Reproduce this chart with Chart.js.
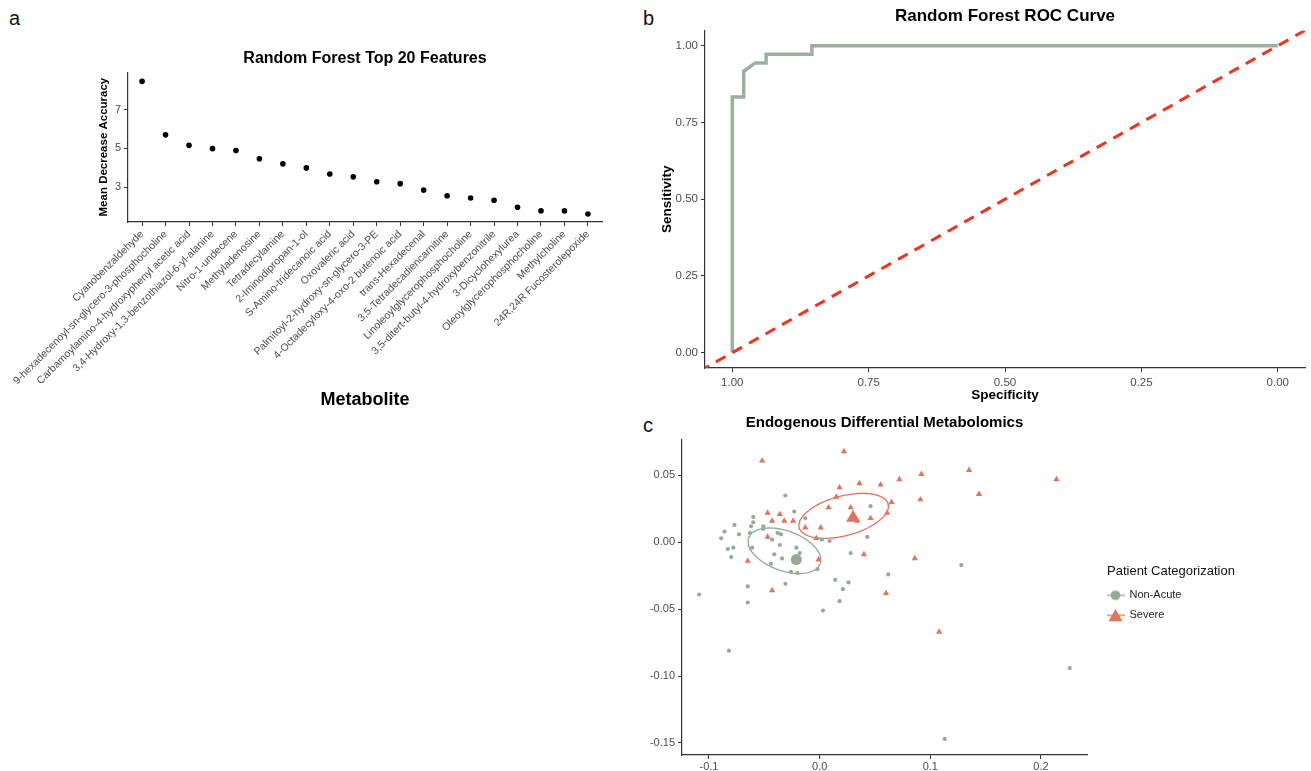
<!DOCTYPE html>
<html>
<head>
<meta charset="utf-8">
<script src="https://cdn.jsdelivr.net/npm/chart.js@4.4.0/dist/chart.umd.min.js"></script>
<style>
  body { margin: 0; background: #fff; width: 1311px; height: 771px; position: relative; overflow: hidden; font-family: "Liberation Sans", Arial, sans-serif; }
  canvas { position: absolute; }
  .tag { position: absolute; font-size: 20px; color: #111; line-height: 20px; }
</style>
</head>
<body>
<div class="tag" style="left:9px;top:8px">a</div>
<div class="tag" style="left:643px;top:8px">b</div>
<div class="tag" style="left:643px;top:415px">c</div>
<canvas id="chartA" width="625" height="420" style="left:0;top:0"></canvas>
<canvas id="chartB" width="671" height="410" style="left:640px;top:0"></canvas>
<canvas id="chartC" width="671" height="361" style="left:640px;top:410px"></canvas>
<script>
// --- panel a : random forest importance ---
const metabolites = [
  'Cyanobenzaldehyde',
  '9-hexadecenoyl-sn-glycero-3-phosphocholine',
  'Carbamoylamino-4-hydroxyphenyl acetic acid',
  '3,4-Hydroxy-1,3-benzothiazol-6-yl-alanine',
  'Nitro-1-undecene',
  'Methyladenosine',
  'Tetradecylamine',
  '2-Iminodipropan-1-ol',
  'S-Amino-tridecanoic acid',
  'Oxovaleric acid',
  'Palmitoyl-2-hydroxy-sn-glycero-3-PE',
  '4-Octadecyloxy-4-oxo-2 butenoic acid',
  'trans-Hexadecenal',
  '3,5-Tetradecadiencarnitine',
  'Linoleoylglycerophosphocholine',
  '3,5-ditert-butyl-4-hydroxybenzonitrile',
  '3-Dicyclohexylurea',
  'Oleoylglycerophosphocholine',
  'Methylcholine',
  '24R,24R Fucosterolepoxide'
];
const meanDecreaseAccuracy = [8.45, 5.70, 5.16, 4.99, 4.89, 4.47, 4.21, 4.00, 3.69, 3.54,
                              3.29, 3.19, 2.86, 2.57, 2.45, 2.34, 1.98, 1.79, 1.79, 1.63];
const accuracyTicks = [3, 5, 7];

// --- panel b : ROC ---
const rocSpecificity = [1, 1, 0.979, 0.979, 0.958, 0.938, 0.938, 0.854, 0.854, 0];
const rocSensitivity = [0, 0.833, 0.833, 0.917, 0.944, 0.944, 0.972, 0.972, 1, 1];
const rocTicks = [0, 0.25, 0.5, 0.75, 1];
const rocRange = [-0.05, 1.05];

// --- panel c : PCA scatter ---
const groupNames = ['Non-Acute', 'Severe'];
const groupColors = ['#97aa97', '#e2735c'];
const nonAcutePC1 = [-0.031, -0.060, -0.060, -0.077, -0.062, -0.051, -0.086, -0.063, -0.073, -0.051,
  -0.089, -0.038, -0.035, -0.043, -0.023, -0.013, -0.078, -0.083, -0.061, -0.036,
  -0.021, -0.018, -0.080, -0.041, -0.034, -0.044, -0.002, -0.026, -0.020, 0.002,
  0.009, 0.028, 0.043, 0.046, -0.031, -0.065, 0.014, 0.026, 0.021, 0.062,
  -0.109, -0.065, 0.018, 0.003, 0.128, -0.082, 0.113, 0.226];
const nonAcutePC2 = [0.035, 0.019, 0.015, 0.013, 0.012, 0.012, 0.008, 0.007, 0.006, 0.010,
  0.003, 0.007, 0.006, 0.002, 0.023, 0.018, -0.004, -0.005, -0.004, -0.002,
  -0.004, -0.008, -0.011, -0.009, -0.012, -0.016, -0.020, -0.022, -0.023, 0.002,
  0.001, -0.008, 0.004, 0.027, -0.031, -0.033, -0.028, -0.030, -0.035, -0.024,
  -0.039, -0.045, -0.044, -0.051, -0.017, -0.081, -0.147, -0.094];
const severePC1 = [-0.052, 0.022, 0.036, 0.018, 0.055, 0.072, 0.015, 0.008, 0.028, 0.065,
  -0.047, -0.036, -0.043, -0.032, -0.024, -0.013, 0.001, 0.046, 0.061, 0.034,
  -0.003, -0.047, -0.065, -0.001, 0.040, -0.043, 0.060, 0.092, 0.135, 0.214,
  0.091, 0.144, 0.086, 0.108];
const severePC2 = [0.061, 0.068, 0.044, 0.041, 0.043, 0.047, 0.034, 0.026, 0.026, 0.030,
  0.022, 0.021, 0.016, 0.016, 0.016, 0.011, 0.011, 0.018, 0.022, 0.016,
  0.003, 0.004, -0.014, -0.013, -0.009, -0.036, -0.038, 0.051, 0.054, 0.047,
  0.032, 0.036, -0.012, -0.067];
// ellipse (stat_ellipse) centre and half-axis vectors, in data units
const nonAcuteEllipseCenter = [-0.0318, -0.0063];
const nonAcuteEllipseAxes = [[0.0323, -0.0097], [-0.0062, -0.0140]];
const severeEllipseCenter = [0.0217, 0.0198];
const severeEllipseAxes = [[0.0402, 0.0088], [0.0047, -0.0143]];
const pc1Ticks = [-0.1, 0, 0.1, 0.2];
const pc2Ticks = [-0.15, -0.10, -0.05, 0, 0.05];

Chart.defaults.font.family = '"Liberation Sans", Arial, sans-serif';
Chart.defaults.animation = false;

const axisColor = '#333333';
const tickColor = '#4d4d4d';
const fixTicks = values => scale => { scale.ticks = values.map(v => ({ value: v })); };
const classicBorder = { display: true, color: axisColor, width: 1.2 };
const classicGrid = { display: true, drawOnChartArea: false, drawTicks: true, tickLength: 4, color: axisColor, lineWidth: 1 };

// Panel a
new Chart(document.getElementById('chartA'), {
  type: 'scatter',
  data: {
    datasets: [{
      data: meanDecreaseAccuracy.map((v, i) => ({ x: i, y: v })),
      backgroundColor: '#000', borderColor: '#000', pointRadius: 2.8, borderWidth: 0
    }]
  },
  options: {
    responsive: false,
    layout: { padding: { left: 0, right: 23, top: 0, bottom: 0 }, autoPadding: false },
    plugins: {
      legend: { display: false },
      tooltip: { enabled: false },
      title: {
        display: true, fullSize: false, text: 'Random Forest Top 20 Features', color: '#000',
        font: { size: 16, weight: 'bold' }, padding: { top: 49, bottom: 4 }
      }
    },
    scales: {
      x: {
        type: 'linear', min: -0.6, max: 19.6,
        afterBuildTicks: fixTicks(metabolites.map((m, i) => i)),
        afterFit: s => { s.height = 198; s.paddingLeft = 0; s.paddingRight = 0; },
        border: classicBorder, grid: classicGrid,
        ticks: { color: tickColor, font: { size: 10.5 }, padding: 2, minRotation: 45, maxRotation: 45, autoSkip: false,
                 callback: v => metabolites[v] },
        title: { display: true, text: 'Metabolite', color: '#000', font: { size: 18, weight: 'bold' }, padding: { top: 0, bottom: 9 } }
      },
      y: {
        min: 1.22, max: 8.92,
        afterBuildTicks: fixTicks(accuracyTicks),
        afterFit: s => { s.width = 128; },
        border: classicBorder, grid: classicGrid,
        ticks: { color: tickColor, font: { size: 11 }, padding: 3 },
        title: { display: true, text: 'Mean Decrease Accuracy', color: '#000', font: { size: 11.5, weight: 'bold' }, padding: { top: 97, bottom: 0 } }
      }
    }
  }
});

// Panel b
new Chart(document.getElementById('chartB'), {
  type: 'scatter',
  data: {
    datasets: [{
      data: rocRange.map(s => ({ x: s, y: 1 - s })),
      showLine: true, borderColor: '#f5321c', borderWidth: 3, borderDash: [11, 8], pointRadius: 0, order: 0
    }, {
      data: rocSpecificity.map((s, i) => ({ x: s, y: rocSensitivity[i] })),
      showLine: true, borderColor: '#9daf9e', borderWidth: 3.5, pointRadius: 0, order: 1
    }]
  },
  options: {
    responsive: false,
    layout: { padding: { left: 0, right: 6, top: 0, bottom: 0 }, autoPadding: false },
    plugins: {
      legend: { display: false },
      tooltip: { enabled: false },
      title: {
        display: true, fullSize: false, text: 'Random Forest ROC Curve', color: '#000',
        font: { size: 17, weight: 'bold' }, padding: { top: 6, bottom: 4 }
      }
    },
    scales: {
      x: {
        type: 'linear', reverse: true, min: rocRange[0], max: rocRange[1],
        afterBuildTicks: fixTicks(rocTicks),
        afterFit: s => { s.height = 42; },
        border: classicBorder, grid: classicGrid,
        ticks: { color: tickColor, font: { size: 11.5 }, padding: 4, callback: v => v.toFixed(2) },
        title: { display: true, text: 'Specificity', color: '#000', font: { size: 13.5, weight: 'bold' }, padding: { top: 0, bottom: 7 } }
      },
      y: {
        min: rocRange[0], max: rocRange[1],
        afterBuildTicks: fixTicks(rocTicks),
        afterFit: s => { s.width = 65; },
        border: classicBorder, grid: classicGrid,
        ticks: { color: tickColor, font: { size: 11.5 }, padding: 3, callback: v => v.toFixed(2) },
        title: { display: true, text: 'Sensitivity', color: '#000', font: { size: 13.5, weight: 'bold' }, padding: { top: 19, bottom: 0 } }
      }
    }
  }
});

// Panel c
function ellipsePath(center, axes) {
  const pts = [];
  for (let k = 0; k <= 96; k++) {
    const t = k / 96 * 2 * Math.PI;
    pts.push({
      x: center[0] + axes[0][0] * Math.cos(t) + axes[1][0] * Math.sin(t),
      y: center[1] + axes[0][1] * Math.cos(t) + axes[1][1] * Math.sin(t)
    });
  }
  return pts;
}
const mean = arr => arr.reduce((a, b) => a + b, 0) / arr.length;

function legendKey(color, shape) {
  const c = document.createElement('canvas');
  c.width = 30; c.height = 16;
  const g = c.getContext('2d');
  g.strokeStyle = color; g.lineWidth = 1.3;
  g.beginPath(); g.moveTo(1, 8); g.lineTo(20, 8); g.stroke();
  g.fillStyle = color;
  g.beginPath();
  if (shape === 'circle') {
    g.arc(10.5, 8, 4.8, 0, Math.PI * 2);
  } else {
    g.moveTo(10.5, 1.5); g.lineTo(17.5, 14); g.lineTo(3.5, 14); g.closePath();
  }
  g.fill();
  return c;
}
const legendKeys = [legendKey(groupColors[0], 'circle'), legendKey(groupColors[1], 'triangle')];

const chartC = new Chart(document.getElementById('chartC'), {
  type: 'scatter',
  data: {
    datasets: [{
      label: groupNames[0],
      data: nonAcutePC1.map((x, i) => ({ x, y: nonAcutePC2[i] })),
      backgroundColor: groupColors[0], borderWidth: 0, pointRadius: 2.1, pointStyle: 'circle'
    }, {
      label: groupNames[1],
      data: severePC1.map((x, i) => ({ x, y: severePC2[i] })),
      backgroundColor: groupColors[1], borderWidth: 0, pointRadius: 3.6, pointStyle: 'triangle'
    }, {
      data: ellipsePath(nonAcuteEllipseCenter, nonAcuteEllipseAxes),
      showLine: true, borderColor: groupColors[0], borderWidth: 1.3, pointRadius: 0
    }, {
      data: ellipsePath(severeEllipseCenter, severeEllipseAxes),
      showLine: true, borderColor: groupColors[1], borderWidth: 1.3, pointRadius: 0
    }, {
      data: [{ x: mean(nonAcutePC1), y: mean(nonAcutePC2) }],
      backgroundColor: groupColors[0], borderWidth: 0, pointRadius: 5.5, pointStyle: 'circle'
    }, {
      data: [{ x: mean(severePC1), y: mean(severePC2) }],
      backgroundColor: groupColors[1], borderWidth: 0, pointRadius: 8, pointStyle: 'triangle'
    }]
  },
  options: {
    responsive: false,
    layout: { padding: { left: 0, right: 34, top: 0, bottom: 0 }, autoPadding: false },
    plugins: {
      tooltip: { enabled: false },
      title: {
        display: true, fullSize: false, text: 'Endogenous Differential Metabolomics', color: '#000',
        font: { size: 15, weight: 'bold' }, padding: { top: 4, bottom: 8 }
      },
      legend: {
        display: true, position: 'right', align: 'center', fullSize: false,
        title: { display: true, text: 'Patient Categorization', color: '#111', font: { size: 13 }, position: 'start', padding: { top: 0, bottom: 0 } },
        labels: {
          usePointStyle: true, pointStyleWidth: 8, padding: 9, color: '#222', font: { size: 11 },
          generateLabels: () => groupNames.map((g, i) => ({
            text: g, pointStyle: legendKeys[i], fillStyle: groupColors[i], strokeStyle: groupColors[i],
            lineWidth: 0, hidden: false, datasetIndex: i, fontColor: '#222'
          }))
        }
      }
    },
    scales: {
      x: {
        type: 'linear', min: -0.1244, max: 0.2416,
        afterBuildTicks: fixTicks(pc1Ticks),
        afterFit: s => { s.height = 16; },
        border: classicBorder, grid: classicGrid,
        ticks: { color: tickColor, font: { size: 11 }, padding: 1, callback: v => v.toFixed(1) }
      },
      y: {
        min: -0.159, max: 0.0765,
        afterBuildTicks: fixTicks(pc2Ticks),
        afterFit: s => { s.width = 42; },
        border: classicBorder, grid: classicGrid,
        ticks: { color: tickColor, font: { size: 11 }, padding: 3, callback: v => v.toFixed(2) }
      },
      spacer: {
        type: 'linear', position: 'right', display: true,
        border: { display: false }, grid: { display: false }, ticks: { display: false },
        afterFit: s => { s.width = 20; }
      }
    }
  }
});
// widen the legend box so its title is not clipped
const legendFit = chartC.legend.fit;
chartC.legend.fit = function () { legendFit.call(this); this.width = 170; };
chartC.update();
</script>
</body>
</html>
